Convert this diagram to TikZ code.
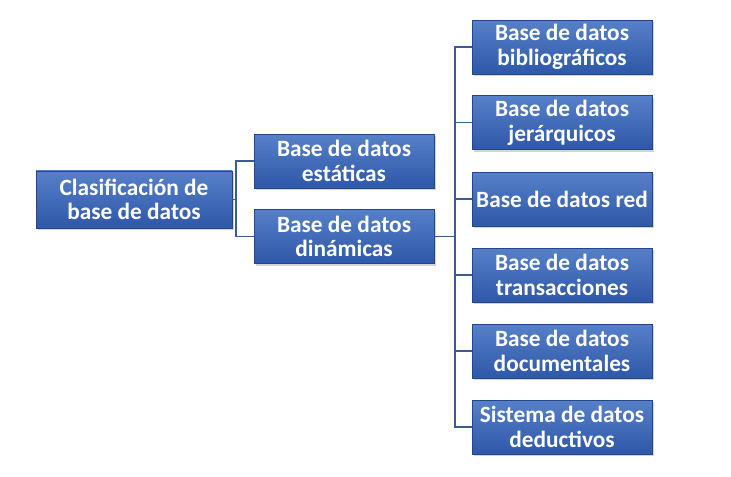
\documentclass[tikz,border=0pt]{standalone}
\usepackage{fontspec}
\setmainfont{Carlito}
\usepackage{tikz}
\usetikzlibrary{shadows}
\definecolor{boxtop}{RGB}{86,128,200}
\definecolor{boxbot}{RGB}{46,88,168}
\definecolor{linecol}{RGB}{60,90,150}

\begin{document}
\begin{tikzpicture}[x=0.75pt,y=-0.75pt,
    main_node/.style={rectangle,top color=boxtop,bottom color=boxbot,draw=boxbot!80!black,
        drop shadow={shadow xshift=1.5pt,shadow yshift=-1.5pt,opacity=0.35},
        minimum width=135pt,minimum height=40.5pt,inner sep=0pt,align=center,
        text=white,font=\fontsize{17.5}{18.5}\selectfont\bfseries},
    link/.style={draw=linecol,line width=1pt}]

    \useasboundingbox (0,0) rectangle (731,476);

    \node[main_node,minimum width=147pt,minimum height=43pt] (root) at (134,199.5) {Clasificación de\\base de datos};
    \node[main_node] (est) at (344,161) {Base de datos\\estáticas};
    \node[main_node] (din) at (344,236.5) {Base de datos\\dinámicas};

    \node[main_node] (d1) at (562,47) {Base de datos\\bibliográficos};
    \node[main_node] (d2) at (562,122.5) {Base de datos\\jerárquicos};
    \node[main_node] (d3) at (562,199) {Base de datos red};
    \node[main_node] (d4) at (562,275) {Base de datos\\transacciones};
    \node[main_node] (d5) at (562,351) {Base de datos\\documentales};
    \node[main_node] (d6) at (562,427) {Sistema de datos\\deductivos};

    \coordinate (j1) at (236,199.5);
    \coordinate (j2) at (455,236.5);
    \draw[link] (root) -- (j1);
    \draw[link] (est.west) -| (j1) |- (din.west);
    \draw[link] (din) -- (j2);
    \draw[link] (d1.west) -| (j2) |- (d6.west);
    \draw[link] (d2.west) -| (j2);
    \draw[link] (d3.west) -| (j2);
    \draw[link] (d4.west) -| (j2);
    \draw[link] (d5.west) -| (j2);
\end{tikzpicture}
\end{document}
